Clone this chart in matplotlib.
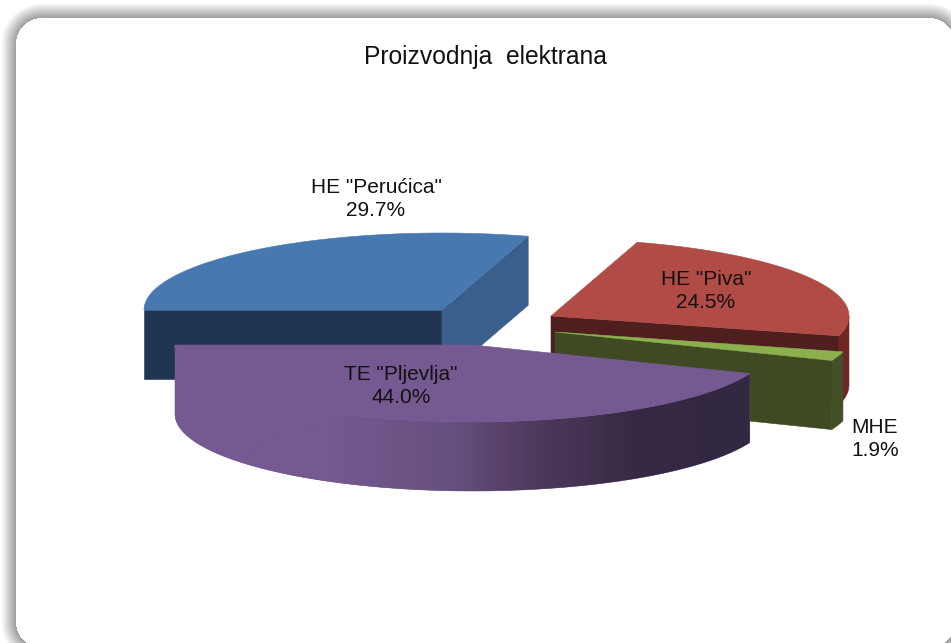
import numpy as np
import matplotlib
matplotlib.use("Agg")
import matplotlib.pyplot as plt
from matplotlib.colors import LinearSegmentedColormap
from matplotlib.patches import Polygon

# data: share of each plant in percent, clockwise from the left of the pie
names = ['HE "Perućica"', 'HE "Piva"', 'MHE', 'TE "Pljevlja"']
shares = [29.7, 24.5, 1.9, 44.0]
title = "Proizvodnja  elektrana"

# exploded slice apexes and label centres, in image pixels
apex_x = [442, 551, 555, 473]
apex_y = [310, 316, 332, 345]
label_x = [376, 706, 875, 401]
label_y = [199, 291, 439, 386]

top_cols = ["#4878B0", "#B14B46", "#8CB04E", "#755A92"]
cut_cols = ["#1F3552", "#4E1F1E", "#3F4A22", "#332842"]
end_cols = ["#3A5F8D", "#4E1F1E", "#3F4A22", "#332842"]
rim_cols = ["#3A5F8D", "#702624", "#434F27", "#755A92"]

RX, RY, DEPTH = 298, 77, 69
W, H = 951, 643

plt.rcParams["font.family"] = ["Liberation Sans", "DejaVu Sans"]

fig = plt.figure(figsize=(W / 100, H / 100), dpi=100)
ax = fig.add_axes([0, 0, 1, 1])
ax.set_xlim(0, W)
ax.set_ylim(H, 0)
ax.axis("off")


def frame_background():
    """White rounded card with a soft grey shadow round it."""
    left, top, right, bottom, r = 16, 18, 955, 648, 26
    yy, xx = np.mgrid[0:H, 0:W] + 0.5
    qx = np.abs(xx - (left + right) / 2) - ((right - left) / 2 - r)
    qy = np.abs(yy - (top + bottom) / 2) - ((bottom - top) / 2 - r)
    dist = np.hypot(np.maximum(qx, 0), np.maximum(qy, 0)) - r + np.minimum(np.maximum(qx, qy), 0)
    s = np.clip(1 - dist / 15, 0, 1)
    grey = 1 - 0.38 * s
    grey[dist <= 0] = 1.0
    ax.imshow(grey, cmap="gray", vmin=0, vmax=1, extent=(0, W, H, 0), zorder=0,
              interpolation="bilinear", aspect="auto")


def ell(cx, cy, deg, drop=0):
    t = np.radians(deg)
    return np.column_stack([cx + RX * np.cos(t), cy - RY * np.sin(t) + drop])


def add_poly(pts, color, z):
    p = Polygon(pts, closed=True, facecolor=color, edgecolor=color, lw=0.4, zorder=z)
    ax.add_patch(p)
    return p


frame_background()

# slice angles go clockwise from 180 degrees
angles = 180 - np.concatenate([[0], np.cumsum(shares)]) / np.sum(shares) * 360

purple_side = LinearSegmentedColormap.from_list(
    "purple_side",
    [(0.0, "#755A92"), (0.27, "#75598F"), (0.48, "#66507F"),
     (0.62, "#4F3A5E"), (0.81, "#352943"), (1.0, "#332842")])

z = 2
for i in range(len(shares)):
    a0, a1 = angles[i], angles[i + 1]
    cx, cy = apex_x[i], apex_y[i]
    arc = np.linspace(a0, a1, 200)
    centre = np.array([[cx, cy]])
    centre_low = np.array([[cx, cy + DEPTH]])

    # cut faces that look towards the viewer
    if a0 > 90:
        p = ell(cx, cy, np.array([a0]))
        add_poly(np.vstack([centre, p, p + [0, DEPTH], centre_low]), cut_cols[i], z)
    if -90 < a1 < 90:
        p = ell(cx, cy, np.array([a1]))
        add_poly(np.vstack([centre, p, p + [0, DEPTH], centre_low]), end_cols[i], z)

    # outer rim, front half only
    vis = arc[(arc <= 0) & (arc >= -180)]
    if len(vis) > 1:
        rim = np.vstack([ell(cx, cy, vis), ell(cx, cy, vis[::-1], DEPTH)])
        rim_patch = add_poly(rim, rim_cols[i], z + 1)
        if i == 3:
            # the big slice has a shaded rim, lighter left and dark right
            grad = np.linspace(0, 1, 256).reshape(1, -1)
            x0, x1 = rim[:, 0].min(), rim[:, 0].max()
            im = ax.imshow(grad, cmap=purple_side, extent=(x0, x1, rim[:, 1].max(), rim[:, 1].min()),
                           zorder=z + 1.5, aspect="auto")
            im.set_clip_path(rim_patch)

    add_poly(np.vstack([centre, ell(cx, cy, arc)]), top_cols[i], z + 2)
    z += 3

ax.set_xlim(0, W)
ax.set_ylim(H, 0)

for i in range(len(shares)):
    ax.text(label_x[i], label_y[i], f"{names[i]}\n{shares[i]:.1f}%", ha="center", va="center",
            fontsize=15, color="#111111", zorder=30, linespacing=1.25)

ax.text(485, 57, title, ha="center", va="center", fontsize=17.7, color="#111111", zorder=30)

fig.savefig("out.png", dpi=100)
